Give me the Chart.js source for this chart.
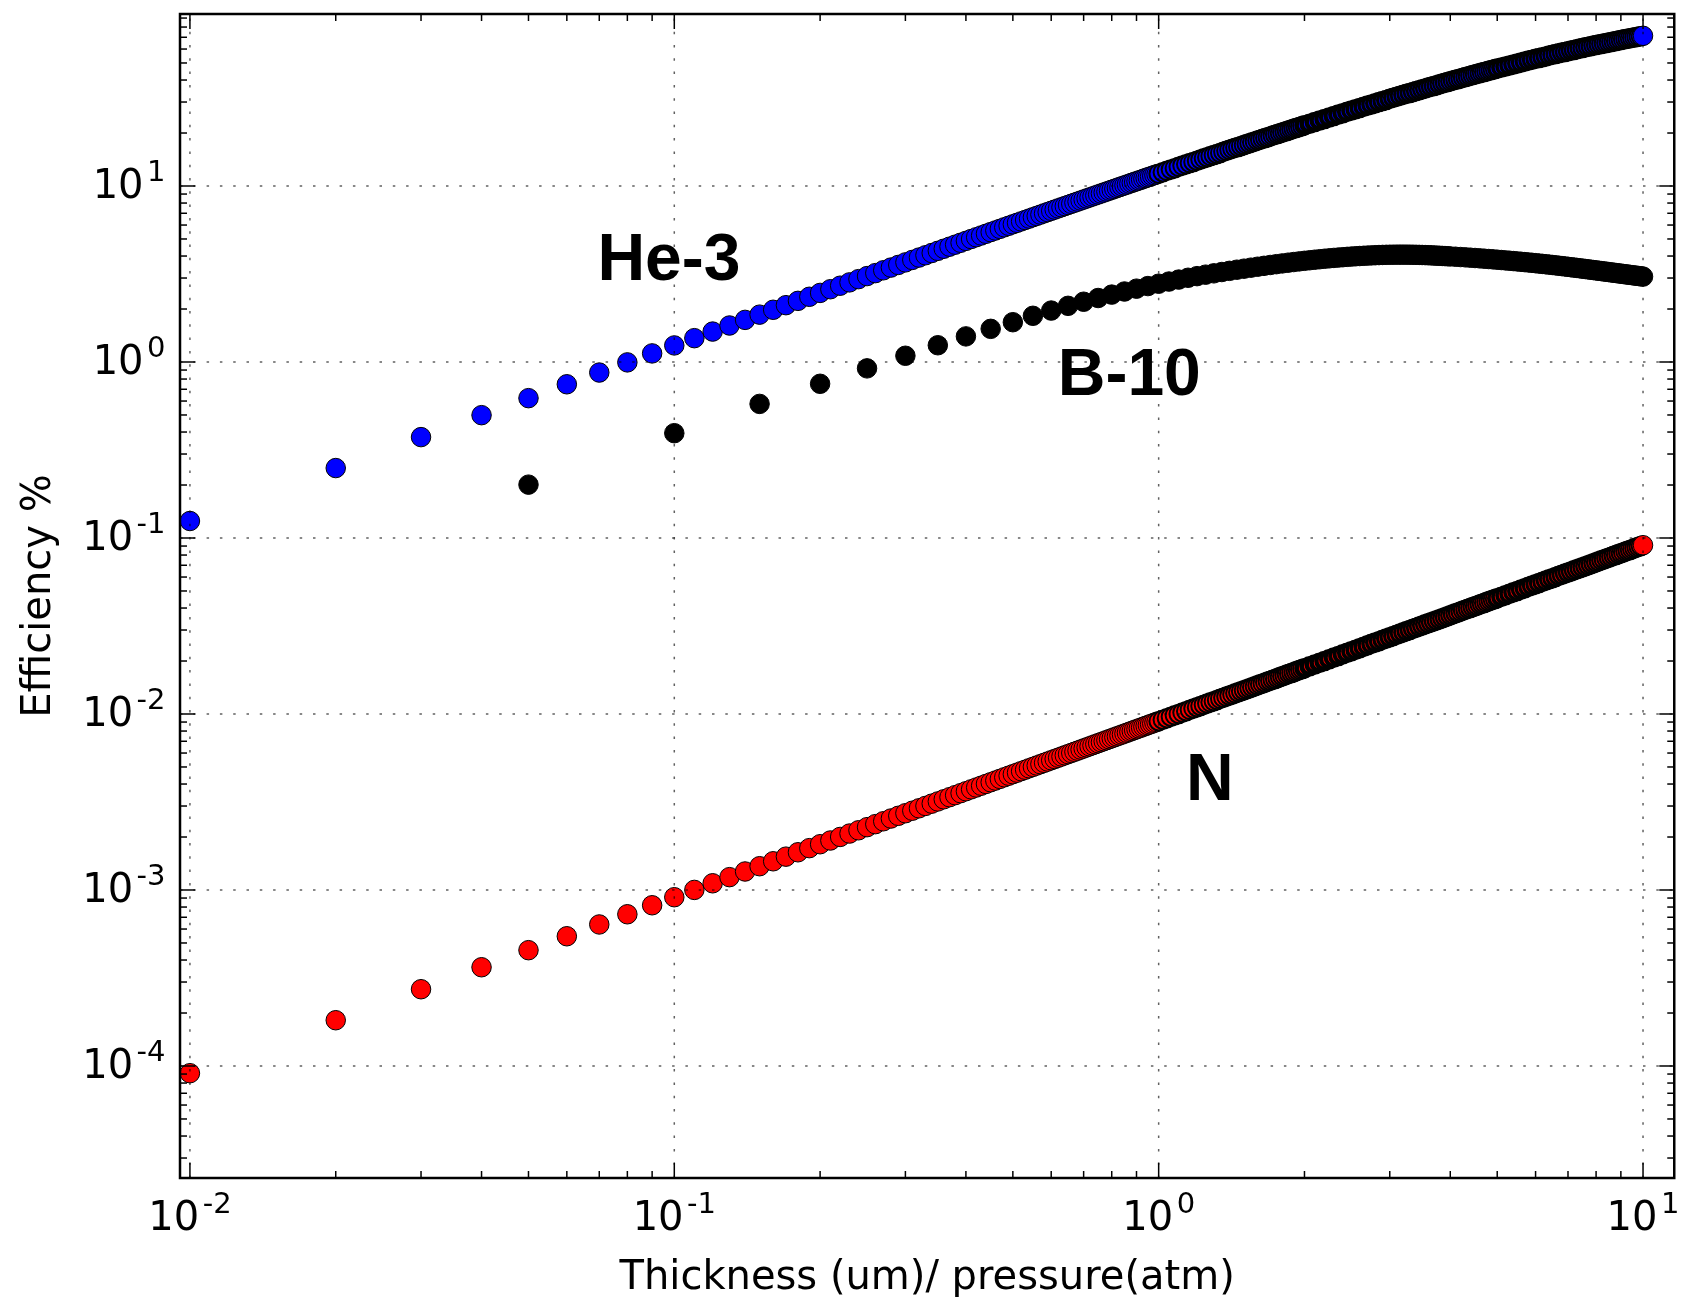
<!DOCTYPE html>
<html>
<head>
<meta charset="utf-8">
<script src="https://cdn.jsdelivr.net/npm/chart.js@4.4.1/dist/chart.umd.min.js"></script>
<style>
html,body{margin:0;padding:0;background:#fff;}
canvas{display:block;}
</style>
</head>
<body>
<canvas id="c" width="1685" height="1297" style="width:1685px;height:1297px"></canvas>
<script>
// ---------------- data ----------------
const thicknessHeN = [
0.01,0.02,0.03,0.04,0.05,0.06,0.07,0.08,0.09,0.10,
0.11,0.12,0.13,0.14,0.15,0.16,0.17,0.18,0.19,0.20,
0.21,0.22,0.23,0.24,0.25,0.26,0.27,0.28,0.29,0.30,
0.31,0.32,0.33,0.34,0.35,0.36,0.37,0.38,0.39,0.40,
0.41,0.42,0.43,0.44,0.45,0.46,0.47,0.48,0.49,0.50,
0.51,0.52,0.53,0.54,0.55,0.56,0.57,0.58,0.59,0.60,
0.61,0.62,0.63,0.64,0.65,0.66,0.67,0.68,0.69,0.70,
0.71,0.72,0.73,0.74,0.75,0.76,0.77,0.78,0.79,0.80,
0.81,0.82,0.83,0.84,0.85,0.86,0.87,0.88,0.89,0.90,
0.91,0.92,0.93,0.94,0.95,0.96,0.97,0.98,0.99,1.00,
1.02,1.04,1.06,1.08,1.10,1.12,1.14,1.16,1.18,1.20,
1.22,1.24,1.26,1.28,1.30,1.32,1.34,1.36,1.38,1.40,
1.42,1.44,1.46,1.48,1.50,1.52,1.54,1.56,1.58,1.60,
1.62,1.64,1.66,1.68,1.70,1.72,1.74,1.76,1.78,1.80,
1.82,1.84,1.86,1.88,1.90,1.92,1.94,1.96,1.98,2.00,
2.05,2.10,2.15,2.20,2.25,2.30,2.35,2.40,2.45,2.50,
2.55,2.60,2.65,2.70,2.75,2.80,2.85,2.90,2.95,3.00,
3.05,3.10,3.15,3.20,3.25,3.30,3.35,3.40,3.45,3.50,
3.55,3.60,3.65,3.70,3.75,3.80,3.85,3.90,3.95,4.00,
4.05,4.10,4.15,4.20,4.25,4.30,4.35,4.40,4.45,4.50,
4.55,4.60,4.65,4.70,4.75,4.80,4.85,4.90,4.95,5.00,
5.1,5.2,5.3,5.4,5.5,5.6,5.7,5.8,5.9,6.0,
6.1,6.2,6.3,6.4,6.5,6.6,6.7,6.8,6.9,7.0,
7.1,7.2,7.3,7.4,7.5,7.6,7.7,7.8,7.9,8.0,
8.1,8.2,8.3,8.4,8.5,8.6,8.7,8.8,8.9,9.0,
9.1,9.2,9.3,9.4,9.5,9.6,9.7,9.8,9.9,10.0
];

const effHe3 = [
0.1249,0.2497,0.3743,0.4988,0.6231,0.7472,0.8712,0.9950,1.119,1.242,
1.366,1.489,1.612,1.735,1.858,1.980,2.103,2.225,2.347,2.469,
2.591,2.713,2.834,2.956,3.077,3.198,3.319,3.440,3.560,3.681,
3.801,3.921,4.041,4.161,4.281,4.400,4.520,4.639,4.758,4.877,
4.996,5.115,5.233,5.352,5.470,5.588,5.706,5.824,5.941,6.059,
6.176,6.293,6.410,6.527,6.644,6.761,6.877,6.994,7.110,7.226,
7.342,7.458,7.573,7.688,7.804,7.919,8.034,8.149,8.264,8.378,
8.493,8.607,8.721,8.835,8.949,9.063,9.177,9.290,9.404,9.516,
9.630,9.743,9.855,9.968,10.08,10.19,10.31,10.42,10.53,10.64,
10.75,10.86,10.98,11.09,11.20,11.31,11.42,11.53,11.64,11.75,
11.97,12.19,12.41,12.63,12.85,13.06,13.28,13.50,13.71,13.93,
14.14,14.36,14.57,14.79,15.00,15.21,15.42,15.63,15.84,16.05,
16.26,16.47,16.68,16.89,17.10,17.30,17.51,17.72,17.92,18.13,
18.33,18.54,18.74,18.94,19.14,19.35,19.55,19.75,19.95,20.15,
20.35,20.55,20.75,20.94,21.14,21.34,21.53,21.73,21.93,22.12,
22.61,23.09,23.57,24.04,24.52,24.99,25.45,25.92,26.38,26.84,
27.29,27.75,28.20,28.64,29.09,29.53,29.97,30.41,30.84,31.27,
31.70,32.12,32.55,32.97,33.39,33.80,34.21,34.62,35.03,35.44,
35.84,36.24,36.63,37.03,37.42,37.81,38.20,38.58,38.97,39.35,
39.73,40.10,40.47,40.84,41.21,41.58,41.94,42.31,42.66,43.02,
43.38,43.73,44.08,44.43,44.77,45.12,45.46,45.80,46.14,46.47,
47.14,47.80,48.44,49.08,49.72,50.34,50.96,51.57,52.17,52.76,
53.35,53.93,54.50,55.07,55.63,56.18,56.72,57.26,57.79,58.31,
58.83,59.34,59.85,60.35,60.84,61.33,61.81,62.28,62.75,63.21,
63.67,64.12,64.57,65.01,65.44,65.87,66.29,66.71,67.13,67.53,
67.94,68.34,68.73,69.12,69.50,69.88,70.25,70.62,70.99,71.35
];

const effN = [
0.0000910,0.000182,0.000273,0.000364,0.000455,0.000546,0.000637,0.000728,0.000819,0.000910,
0.001001,0.001092,0.001183,0.001274,0.001365,0.001456,0.001547,0.001638,0.001729,0.001820,
0.001911,0.002002,0.002093,0.002184,0.002275,0.002366,0.002457,0.002548,0.002639,0.002730,
0.002821,0.002912,0.003003,0.003094,0.003185,0.003276,0.003367,0.003458,0.003549,0.003640,
0.003731,0.003822,0.003913,0.004004,0.004095,0.004186,0.004277,0.004368,0.004459,0.004550,
0.004641,0.004732,0.004823,0.004914,0.005005,0.005096,0.005187,0.005278,0.005369,0.005460,
0.005551,0.005642,0.005733,0.005824,0.005915,0.006006,0.006097,0.006188,0.006279,0.006370,
0.006461,0.006552,0.006643,0.006734,0.006825,0.006916,0.007007,0.007098,0.007189,0.007280,
0.007371,0.007462,0.007553,0.007644,0.007735,0.007826,0.007917,0.008008,0.008099,0.008190,
0.008281,0.008372,0.008463,0.008554,0.008645,0.008736,0.008827,0.008918,0.009009,0.009100,
0.009282,0.009464,0.009646,0.009828,0.01001,0.01019,0.01037,0.01056,0.01074,0.01092,
0.01110,0.01128,0.01147,0.01165,0.01183,0.01201,0.01219,0.01238,0.01256,0.01274,
0.01292,0.01310,0.01329,0.01347,0.01365,0.01383,0.01401,0.01420,0.01438,0.01456,
0.01474,0.01492,0.01511,0.01529,0.01547,0.01565,0.01583,0.01602,0.01620,0.01638,
0.01656,0.01674,0.01693,0.01711,0.01729,0.01747,0.01765,0.01784,0.01802,0.01820,
0.01866,0.01911,0.01957,0.02002,0.02048,0.02093,0.02139,0.02184,0.02230,0.02275,
0.02321,0.02366,0.02412,0.02457,0.02503,0.02548,0.02594,0.02639,0.02685,0.02730,
0.02776,0.02821,0.02867,0.02912,0.02958,0.03003,0.03049,0.03094,0.03140,0.03185,
0.03231,0.03276,0.03322,0.03367,0.03413,0.03458,0.03504,0.03549,0.03595,0.03640,
0.03686,0.03731,0.03777,0.03822,0.03868,0.03913,0.03959,0.04004,0.04050,0.04095,
0.04141,0.04186,0.04232,0.04277,0.04323,0.04368,0.04414,0.04459,0.04505,0.04550,
0.04641,0.04732,0.04823,0.04914,0.05005,0.05096,0.05187,0.05278,0.05369,0.05460,
0.05551,0.05642,0.05733,0.05824,0.05915,0.06006,0.06097,0.06188,0.06279,0.06370,
0.06461,0.06552,0.06643,0.06734,0.06825,0.06916,0.07007,0.07098,0.07189,0.07280,
0.07371,0.07462,0.07553,0.07644,0.07735,0.07826,0.07917,0.08008,0.08099,0.08190,
0.08281,0.08372,0.08463,0.08554,0.08645,0.08736,0.08827,0.08918,0.09009,0.09100
];

const thicknessB10 = [
0.05,0.10,0.15,0.20,0.25,0.30,0.35,0.40,0.45,0.50,
0.55,0.60,0.65,0.70,0.75,0.80,0.85,0.90,0.95,1.00,
1.05,1.10,1.15,1.20,1.25,1.30,1.35,1.40,1.45,1.50,
1.55,1.60,1.65,1.70,1.75,1.80,1.85,1.90,1.95,2.00,
2.05,2.10,2.15,2.20,2.25,2.30,2.35,2.40,2.45,2.50,
2.55,2.60,2.65,2.70,2.75,2.80,2.85,2.90,2.95,3.00,
3.05,3.10,3.15,3.20,3.25,3.30,3.35,3.40,3.45,3.50,
3.55,3.60,3.65,3.70,3.75,3.80,3.85,3.90,3.95,4.00,
4.1,4.2,4.3,4.4,4.5,4.6,4.7,4.8,4.9,5.0,
5.1,5.2,5.3,5.4,5.5,5.6,5.7,5.8,5.9,6.0,
6.1,6.2,6.3,6.4,6.5,6.6,6.7,6.8,6.9,7.0,
7.1,7.2,7.3,7.4,7.5,7.6,7.7,7.8,7.9,8.0,
8.1,8.2,8.3,8.4,8.5,8.6,8.7,8.8,8.9,9.0,
9.1,9.2,9.3,9.4,9.5,9.6,9.7,9.8,9.9,10.0
];

const effB10 = [
0.201,0.394,0.578,0.752,0.920,1.085,1.245,1.398,1.543,1.683,
1.830,1.960,2.085,2.200,2.310,2.415,2.515,2.610,2.700,2.785,
2.865,2.940,3.010,3.075,3.135,3.190,3.245,3.295,3.345,3.390,
3.435,3.478,3.519,3.558,3.596,3.632,3.666,3.698,3.729,3.758,
3.786,3.812,3.837,3.860,3.882,3.903,3.922,3.940,3.957,3.973,
3.988,4.001,4.013,4.024,4.034,4.043,4.051,4.058,4.064,4.068,
4.071,4.073,4.074,4.074,4.073,4.071,4.068,4.064,4.060,4.055,
4.049,4.043,4.036,4.029,4.021,4.013,4.005,3.997,3.989,3.980,
3.964,3.948,3.932,3.915,3.898,3.881,3.864,3.847,3.830,3.813,
3.796,3.779,3.762,3.745,3.728,3.711,3.694,3.677,3.660,3.643,
3.626,3.609,3.592,3.575,3.558,3.541,3.524,3.507,3.490,3.473,
3.456,3.440,3.424,3.408,3.392,3.376,3.360,3.345,3.330,3.315,
3.300,3.285,3.271,3.257,3.243,3.229,3.215,3.202,3.189,3.176,
3.163,3.150,3.138,3.126,3.114,3.102,3.090,3.079,3.068,3.057
];

const seriesNames = ['He-3', 'B-10', 'N'];
const xTickExponents = [-2, -1, 0, 1];
const yTickExponents = [-4, -3, -2, -1, 0, 1];
const xAxisTitle = 'Thickness (um)/ pressure(atm)';
const yAxisTitle = 'Efficiency %';

// ---------------- styling / layout ----------------
const X_MIN = 0.009539, X_MAX = 11.6;
const Y_MIN = 2.31e-5, Y_MAX = 94.9;
const SOURCE_STEP = 0.01;          // sampling step of the dense series
const MARKER_OUTER = 10.25;        // outer radius of a marker (px)

// where the series names sit (data coordinates of the text's left baseline)
const nameAnchors = {
  'He-3': {x: 0.0694, y: 2.92},
  'B-10': {x: 0.619, y: 0.649},
  'N':    {x: 1.139, y: 0.00325}
};

function toPoints(xs, ys) { return xs.map((x, i) => ({x: x, y: ys[i]})); }

// Edge width of a marker: every plotted point stands for (gap / SOURCE_STEP)
// overlapping markers of the source, each leaving a thin dark rim.
function edgeWidth(ctx) {
  const i = ctx.dataIndex;
  const data = ctx.dataset && ctx.dataset.data;
  const ch = ctx.chart;
  if (i === undefined || !data || i >= data.length - 1 || !ch.scales || !ch.scales.x) return 1;
  const xs = ch.scales.x, ys = ch.scales.y;
  const p = data[i], q = data[i + 1];
  const dx = xs.getPixelForValue(q.x) - xs.getPixelForValue(p.x);
  const dy = ys.getPixelForValue(q.y) - ys.getPixelForValue(p.y);
  const gap = Math.hypot(dx, dy);
  const n = (q.x - p.x) / SOURCE_STEP;
  return Math.max(1, Math.min(0.85 * gap, n));
}
function radiusFor(ctx) { return MARKER_OUTER - edgeWidth(ctx) / 2; }

const mplAxes = {
  id: 'mplAxes',
  beforeDatasetsDraw(chart) {
    const c = chart.ctx, xs = chart.scales.x, ys = chart.scales.y;
    c.save();
    c.fillStyle = '#000';
    c.font = 'bold 66px "Liberation Sans", Arial, Helvetica, sans-serif';
    c.textAlign = 'left';
    c.textBaseline = 'alphabetic';
    seriesNames.forEach(nm => {
      const a = nameAnchors[nm];
      c.fillText(nm, xs.getPixelForValue(a.x), ys.getPixelForValue(a.y));
    });
    c.restore();
  },
  afterDatasetsDraw(chart) {
    const c = chart.ctx, a = chart.chartArea, xs = chart.scales.x, ys = chart.scales.y;
    const xMaj = xTickExponents.map(e => Math.pow(10, e));
    const yMaj = yTickExponents.map(e => Math.pow(10, e));
    const minors = (lo, hi) => {
      const out = [];
      for (let d = Math.floor(Math.log10(lo)) - 1; d <= Math.ceil(Math.log10(hi)); d++) {
        for (let m = 2; m <= 9; m++) {
          const v = m * Math.pow(10, d);
          if (v > lo && v < hi) out.push(v);
        }
      }
      return out;
    };
    c.save();
    // dotted grid at major ticks (drawn above the markers)
    c.strokeStyle = 'rgba(0,0,0,0.62)';
    c.lineWidth = 1.5;
    c.setLineDash([2.5, 10.8]);
    xMaj.forEach(v => {
      const px = xs.getPixelForValue(v);
      c.beginPath(); c.moveTo(px, a.bottom); c.lineTo(px, a.top); c.stroke();
    });
    yMaj.forEach(v => {
      const py = ys.getPixelForValue(v);
      c.beginPath(); c.moveTo(a.left, py); c.lineTo(a.right, py); c.stroke();
    });
    c.setLineDash([]);
    // inward ticks on all four sides
    c.strokeStyle = '#000';
    c.lineWidth = 1.5;
    const seg = (x1, y1, x2, y2) => { c.beginPath(); c.moveTo(x1, y1); c.lineTo(x2, y2); c.stroke(); };
    const xTick = (v, len) => { const px = xs.getPixelForValue(v); seg(px, a.bottom, px, a.bottom - len); seg(px, a.top, px, a.top + len); };
    const yTick = (v, len) => { const py = ys.getPixelForValue(v); seg(a.left, py, a.left + len, py); seg(a.right, py, a.right - len, py); };
    minors(X_MIN, X_MAX).forEach(v => xTick(v, 7));
    minors(Y_MIN, Y_MAX).forEach(v => yTick(v, 7));
    xMaj.forEach(v => xTick(v, 15));
    yMaj.forEach(v => yTick(v, 15));
    // frame
    c.lineWidth = 2.5;
    c.strokeRect(a.left, a.top, a.right - a.left, a.bottom - a.top);
    // tick labels 10^n
    const baseFont = '40px "DejaVu Sans", sans-serif';
    const expFont = '29px "DejaVu Sans", sans-serif';
    const GAP = 3.5;
    c.fillStyle = '#000';
    c.textAlign = 'left';
    c.textBaseline = 'alphabetic';
    const measure = (t, f) => { c.font = f; return c.measureText(t).width; };
    xTickExponents.forEach(e => {
      const px = xs.getPixelForValue(Math.pow(10, e));
      const es = String(e);
      const w1 = measure('10', baseFont), w2 = measure(es, expFont);
      const x0 = px - (w1 + GAP + w2) / 2;
      c.font = baseFont; c.fillText('10', x0, a.bottom + 52);
      c.font = expFont; c.fillText(es, x0 + w1 + GAP, a.bottom + 35);
    });
    yTickExponents.forEach(e => {
      const py = ys.getPixelForValue(Math.pow(10, e));
      const es = String(e);
      const w1 = measure('10', baseFont), w2 = measure(es, expFont);
      const x0 = a.left - 14.5 - (w1 + GAP + w2);
      c.font = baseFont; c.fillText('10', x0, py + 12);
      c.font = expFont; c.fillText(es, x0 + w1 + GAP, py - 5);
    });
    // axis titles
    c.font = '40px "DejaVu Sans", sans-serif';
    c.textAlign = 'center';
    c.fillText(xAxisTitle, (a.left + a.right) / 2, a.bottom + 111);
    c.save();
    c.translate(50, (a.top + a.bottom) / 2);
    c.rotate(-Math.PI / 2);
    c.fillText(yAxisTitle, 0, 0);
    c.restore();
    c.restore();
  }
};

const pointStyleFor = (fill) => ({
  backgroundColor: fill,
  borderColor: '#000000',
  pointRadius: radiusFor,
  pointBorderWidth: edgeWidth,
  pointStyle: 'circle',
  showLine: false
});

new Chart(document.getElementById('c'), {
  type: 'scatter',
  data: {
    datasets: [
      Object.assign({label: seriesNames[0], data: toPoints(thicknessHeN, effHe3)}, pointStyleFor('#0000ff')),
      {label: seriesNames[1], data: toPoints(thicknessB10, effB10), backgroundColor: '#000000', borderColor: '#000000',
       pointRadius: MARKER_OUTER - 0.5, pointBorderWidth: 1, showLine: false},
      Object.assign({label: seriesNames[2], data: toPoints(thicknessHeN, effN)}, pointStyleFor('#ff0000'))
    ]
  },
  options: {
    responsive: false,
    animation: false,
    devicePixelRatio: 1,
    events: [],
    layout: {padding: {left: 180, top: 14, right: 3, bottom: 119}},
    scales: {
      x: {type: 'logarithmic', min: X_MIN, max: X_MAX, display: false},
      y: {type: 'logarithmic', min: Y_MIN, max: Y_MAX, display: false}
    },
    plugins: {legend: {display: false}, tooltip: {enabled: false}, title: {display: false}}
  },
  plugins: [mplAxes]
});
</script>
</body>
</html>
